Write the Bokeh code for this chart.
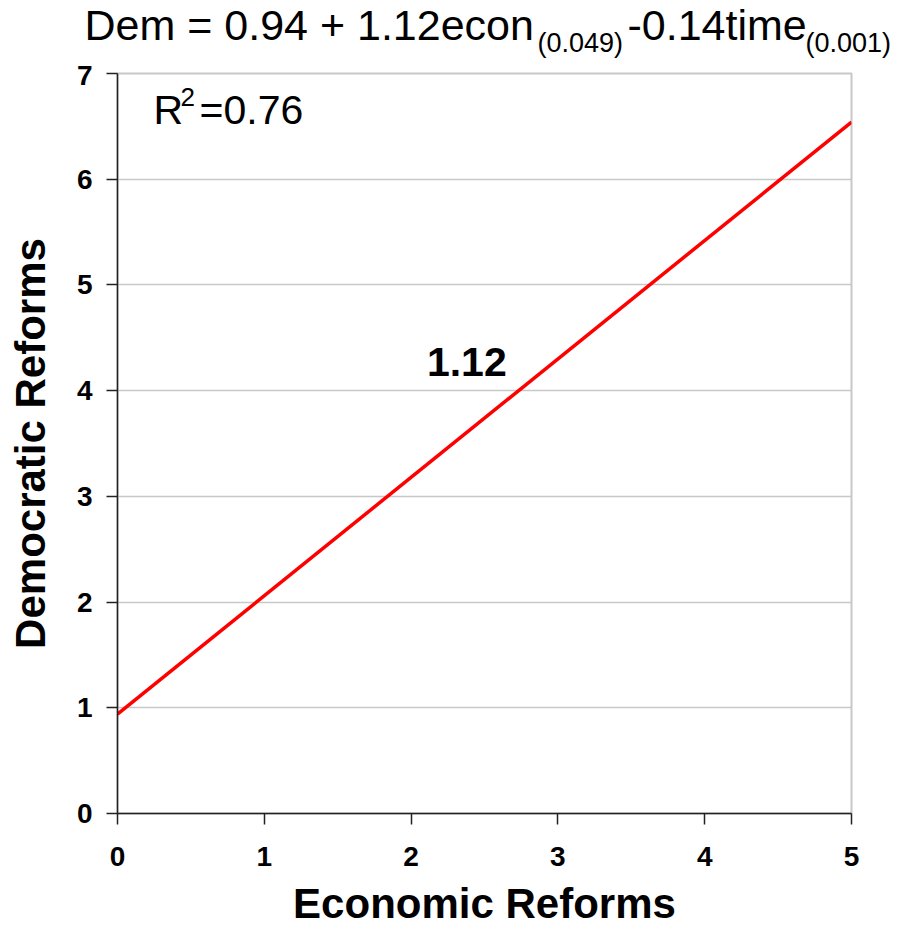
from bokeh.plotting import figure
from bokeh.layouts import column
from bokeh.models import Range1d, FixedTicker, Label
from bokeh.embed import file_html
from bokeh.resources import INLINE

# Data
econ = [0, 5]
dem = [0.94, 6.54]
x_ticks = [0, 1, 2, 3, 4, 5]
y_ticks = [0, 1, 2, 3, 4, 5, 6, 7]
title_main = "Dem = 0.94 + 1.12econ "
title_sub1 = "(0.049)"
title_mid = "-0.14time"
title_sub2 = "(0.001)"
r2_base = "R"
r2_sup = "2"
r2_rest = "=0.76"
slope_label = "1.12"

FONT = "Liberation Sans"
W = 909
TITLE_H = 65
MAIN_H = 929 - TITLE_H

# ---- title strip (pixel-coordinate frame) ----
t = figure(width=W, height=TITLE_H, output_backend="svg", toolbar_location=None,
           x_range=Range1d(0, W), y_range=Range1d(0, TITLE_H),
           x_axis_type=None, y_axis_type=None,
           min_border_left=0, min_border_right=0, min_border_top=0, min_border_bottom=0)
t.frame_align = False
t.outline_line_color = None
t.background_fill_color = "white"
t.border_fill_color = "white"
t.xgrid.grid_line_color = None
t.ygrid.grid_line_color = None

def add_title_piece(text, px, py, size):
    t.add_layout(Label(x=px, y=TITLE_H - py, text=text, text_font=FONT,
                       text_font_size=f"{size}px", text_color="black",
                       text_baseline="alphabetic", text_align="left"))

add_title_piece(title_main, 84, 24, 43)
add_title_piece(title_sub1, 537, 42, 27)
add_title_piece(title_mid, 627, 24, 43)
add_title_piece(title_sub2, 805, 42, 27)

# ---- main chart ----
p = figure(width=W, height=MAIN_H, output_backend="svg", toolbar_location=None,
           x_range=Range1d(0, 5), y_range=Range1d(0, 7),
           min_border_left=117, min_border_right=58, min_border_top=8, min_border_bottom=116)
p.frame_align = False
p.background_fill_color = "white"
p.border_fill_color = "white"
p.outline_line_color = "#c8c8c8"
p.outline_line_width = 2

p.xgrid.grid_line_color = None
p.ygrid.grid_line_color = "#c8c8c8"
p.ygrid.grid_line_width = 1.5
p.ygrid.ticker = FixedTicker(ticks=y_ticks)

for ax, ticks in ((p.xaxis[0], x_ticks), (p.yaxis[0], y_ticks)):
    ax.ticker = FixedTicker(ticks=ticks)
    ax.axis_line_color = "#222222"
    ax.axis_line_width = 1.5
    ax.major_tick_line_color = "#222222"
    ax.major_tick_line_width = 1.5
    ax.major_tick_out = 11
    ax.major_tick_in = 0
    ax.minor_tick_line_color = None
    ax.major_label_text_font = FONT
    ax.major_label_text_font_style = "bold"
    ax.major_label_text_font_size = "28px"
    ax.major_label_text_color = "black"
    ax.axis_label_text_font = FONT
    ax.axis_label_text_font_style = "bold"
    ax.axis_label_text_font_size = "42px"
    ax.axis_label_text_color = "black"

p.xaxis.axis_label = "Economic Reforms"
p.yaxis.axis_label = "Democratic Reforms"
p.xaxis.major_label_standoff = 22
p.xaxis.axis_label_standoff = 11
p.yaxis.major_label_standoff = 14
p.yaxis.axis_label_standoff = 20

p.line(econ, dem, line_color="#ff0000", line_width=3.5)

# page pixel -> data mapping for annotation placement
def px_to_x(px):
    return (px - 118) / 146.6

def py_to_y(py):
    return (813 - py) / 105.71

def add_label(text, px, py, size, style="normal"):
    p.add_layout(Label(x=px_to_x(px), y=py_to_y(py), text=text,
                       text_font=FONT, text_font_size=f"{size}px",
                       text_font_style=style, text_color="black",
                       text_baseline="alphabetic", text_align="left"))

# R^2 annotation
add_label(r2_base, 154, 110, 41)
add_label(r2_sup, 181, 97, 26)
add_label(r2_rest, 200, 110, 41)

# slope label
add_label(slope_label, 427, 362, 41, "bold")

layout = column(t, p, spacing=0)
open("out.html", "w").write(file_html(layout, INLINE))
